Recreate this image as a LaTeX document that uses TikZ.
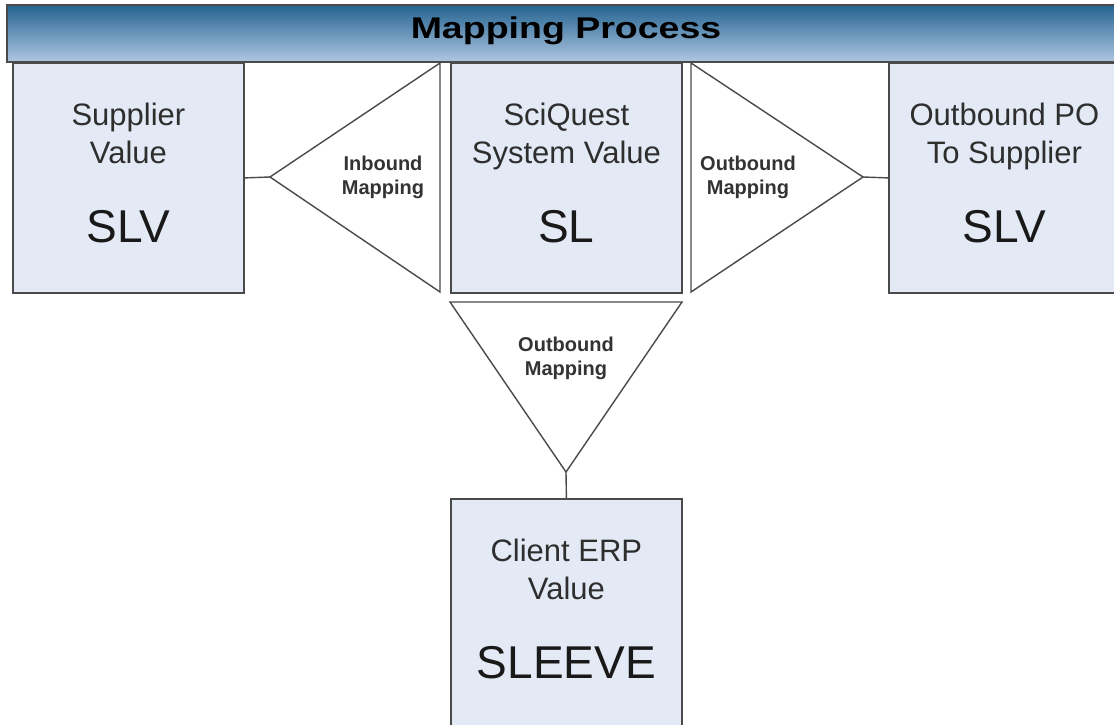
\documentclass[tikz,border=0pt]{standalone}
\usepackage{fontspec}
\setmainfont{Liberation Sans}
\usepackage{tikz}

\definecolor{barTop}{HTML}{22628F}
\definecolor{barBot}{HTML}{ABC3DF}
\definecolor{boxFill}{HTML}{E3EAF5}
\definecolor{lineGray}{HTML}{4A4A4A}

\begin{document}
\begin{tikzpicture}[x=1pt,y=-1pt,
	bar/.style={draw=lineGray, line width=1.8pt, minimum width=1114pt, minimum height=57pt, inner sep=0pt, anchor=north west},
	valbox/.style={draw=lineGray, line width=1.8pt, fill=boxFill, minimum width=231pt, minimum height=230pt, inner sep=0pt, anchor=north west},
	tri/.style={draw=lineGray, line width=1.4pt, fill=white},
	link/.style={draw=lineGray, line width=1.4pt},
	valtxt/.style={anchor=north, align=center, inner sep=0pt, text=black!82, font=\fontsize{31}{38}\selectfont},
	codetxt/.style={anchor=base, inner sep=0pt, text=black!90, font=\fontsize{46}{46}\selectfont},
	maptxt/.style={align=center, inner sep=0pt, text=black!80, font=\fontsize{20}{24}\selectfont\bfseries}]

	\useasboundingbox (0,0) rectangle (1114,725);

	% Title bar, shaded dark to light
	\foreach \i in {0,...,56} {
		\pgfmathsetmacro\pc{100*\i/56}
		\fill[barBot!\pc!barTop] (6,4+\i) rectangle (1120,5.2+\i);
	}
	\node[bar] (bar) at (6,4) {};
	\node[anchor=base, inner sep=0pt, font=\fontsize{30}{30}\selectfont\bfseries] (ttl) at (566,39) {\scalebox{1.25}[1]{Mapping Process}};

	% Value boxes
	\node[valbox] (sup) at (12,62) {};
	\node[valbox] (sq) at (450,62) {};
	\node[valbox] (po) at (888,62) {};
	\node[valbox] (erp) at (450,498) {};

	\node[valtxt] (suptxt) at ([yshift=-41pt]sup.north) {Supplier\\Value};
	\node[valtxt] (sqtxt) at ([yshift=-41pt]sq.north) {SciQuest\\System Value};
	\node[valtxt] (potxt) at ([yshift=-41pt]po.north) {Outbound PO\\To Supplier};
	\node[valtxt] (erptxt) at ([yshift=-41pt]erp.north) {Client ERP\\Value};

	\node[codetxt] (supcode) at ([yshift=-180pt]sup.north) {SLV};
	\node[codetxt] (sqcode) at ([yshift=-180pt]sq.north) {SL};
	\node[codetxt] (pocode) at ([yshift=-180pt]po.north) {SLV};
	\node[codetxt] (erpcode) at ([yshift=-180pt]erp.north) {SLEEVE};

	% Mapping triangles
	\coordinate (inapex) at (270,177);
	\coordinate (outapex) at (863,177);
	\coordinate (dnapex) at (566,472);

	\draw[tri] (440,63) -- (inapex) -- (440,292) -- cycle;
	\draw[tri] (691,63) -- (outapex) -- (691,292) -- cycle;
	\draw[tri] (450,302) -- (682,302) -- (dnapex) -- cycle;

	\node[maptxt] (inlbl) at (383,177) {Inbound\\Mapping};
	\node[maptxt] (outlbl) at (748,177) {Outbound\\Mapping};
	\node[maptxt] (dnlbl) at (566,358) {Outbound\\Mapping};

	% Links
	\draw[link] (sup.east) -- (inapex);
	\draw[link] (outapex) -- (po.west);
	\draw[link] (dnapex) -- (erp.north);

\end{tikzpicture}
\end{document}
